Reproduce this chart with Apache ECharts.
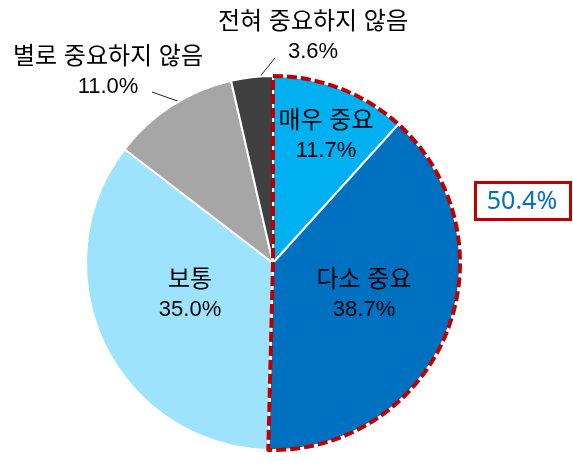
<!DOCTYPE html>
<html><head><meta charset="utf-8">
<script src="https://cdn.jsdelivr.net/npm/echarts@6/dist/echarts.min.js"></script>
<style>html,body{margin:0;padding:0;background:#fff}#c{width:573px;height:466px}</style>
</head><body><div id="c"></div>
<script>
// ---- data ----
const categories = ['매우 중요', '다소 중요', '보통', '별로 중요하지 않음', '전혀 중요하지 않음'];
const values = [11.7, 38.7, 35.0, 11.0, 3.6];
const colors = ['#00B0F0', '#0070C0', '#9DE3FE', '#A6A6A6', '#404040'];
const highlightValues = [50.4, 49.6];
const highlightLabel = '50.4%';

// ---- layout helpers (label placement only) ----
const FONT = "'Liberation Sans', Arial, 'Noto Sans CJK KR', sans-serif";
const labelPos = {0: [326, 136], 1: [364, 295], 2: [190, 295], 3: [108, 72], 4: [313, 37]};
const linePts = {3: [[183, 103], [152, 92]], 4: [[258, 79], [275, 58]]};

const chart = echarts.init(document.getElementById('c'), null, {renderer: 'canvas'});
chart.setOption({
  animation: false,
  backgroundColor: '#fff',
  series: [{
    type: 'pie',
    center: [273, 263],
    radius: 187,
    startAngle: 90,
    clockwise: true,
    avoidLabelOverlap: false,
    silent: true,
    emphasis: {disabled: true},
    itemStyle: {borderColor: '#fff', borderWidth: 2},
    data: categories.map((n, i) => ({
      name: n, value: values[i],
      itemStyle: {color: colors[i]},
      label: {position: i < 3 ? 'inside' : 'outside'},
      labelLine: {show: i >= 3}
    })),
    label: {
      show: true,
      formatter: p => '{k|' + p.name + '}\n{v|' + p.value.toFixed(1) + '%}',
      fontFamily: FONT, fontSize: 22, lineHeight: 29, color: '#000', align: 'center',
      rich: {
        k: {fontFamily: FONT, fontSize: 24, lineHeight: 30, color: '#000', align: 'center'},
        v: {fontFamily: FONT, fontSize: 22, lineHeight: 29, color: '#000', align: 'center'}
      }
    },
    labelLine: {show: true, length: 20, length2: 0, lineStyle: {color: '#222', width: 1}},
    labelLayout: p => {
      const q = labelPos[p.dataIndex];
      const o = {x: q[0], y: q[1], align: 'center', verticalAlign: 'middle'};
      if (linePts[p.dataIndex]) o.labelLinePoints = linePts[p.dataIndex];
      return o;
    }
  }, {
    type: 'pie',
    center: [273, 263],
    radius: 187,
    startAngle: 90,
    clockwise: true,
    silent: true,
    emphasis: {disabled: true},
    label: {show: false},
    labelLine: {show: false},
    data: [
      {value: highlightValues[0], itemStyle: {color: 'rgba(0,0,0,0)', borderColor: '#C00000', borderWidth: 4, borderType: [10, 4]}},
      {value: highlightValues[1], itemStyle: {color: 'rgba(0,0,0,0)', borderWidth: 0}}
    ]
  }],
  graphic: [
    {type: 'rect', shape: {x: 475.5, y: 182.5, width: 95, height: 37},
     style: {fill: '#fff', stroke: '#C00000', lineWidth: 3}},
    {type: 'text', x: 522, y: 201.5,
     style: {text: highlightLabel, fontSize: 25, fontFamily: "'Noto Sans', sans-serif",
             fill: '#0070C0', align: 'center', verticalAlign: 'middle'}}
  ]
});
</script>
</body></html>
